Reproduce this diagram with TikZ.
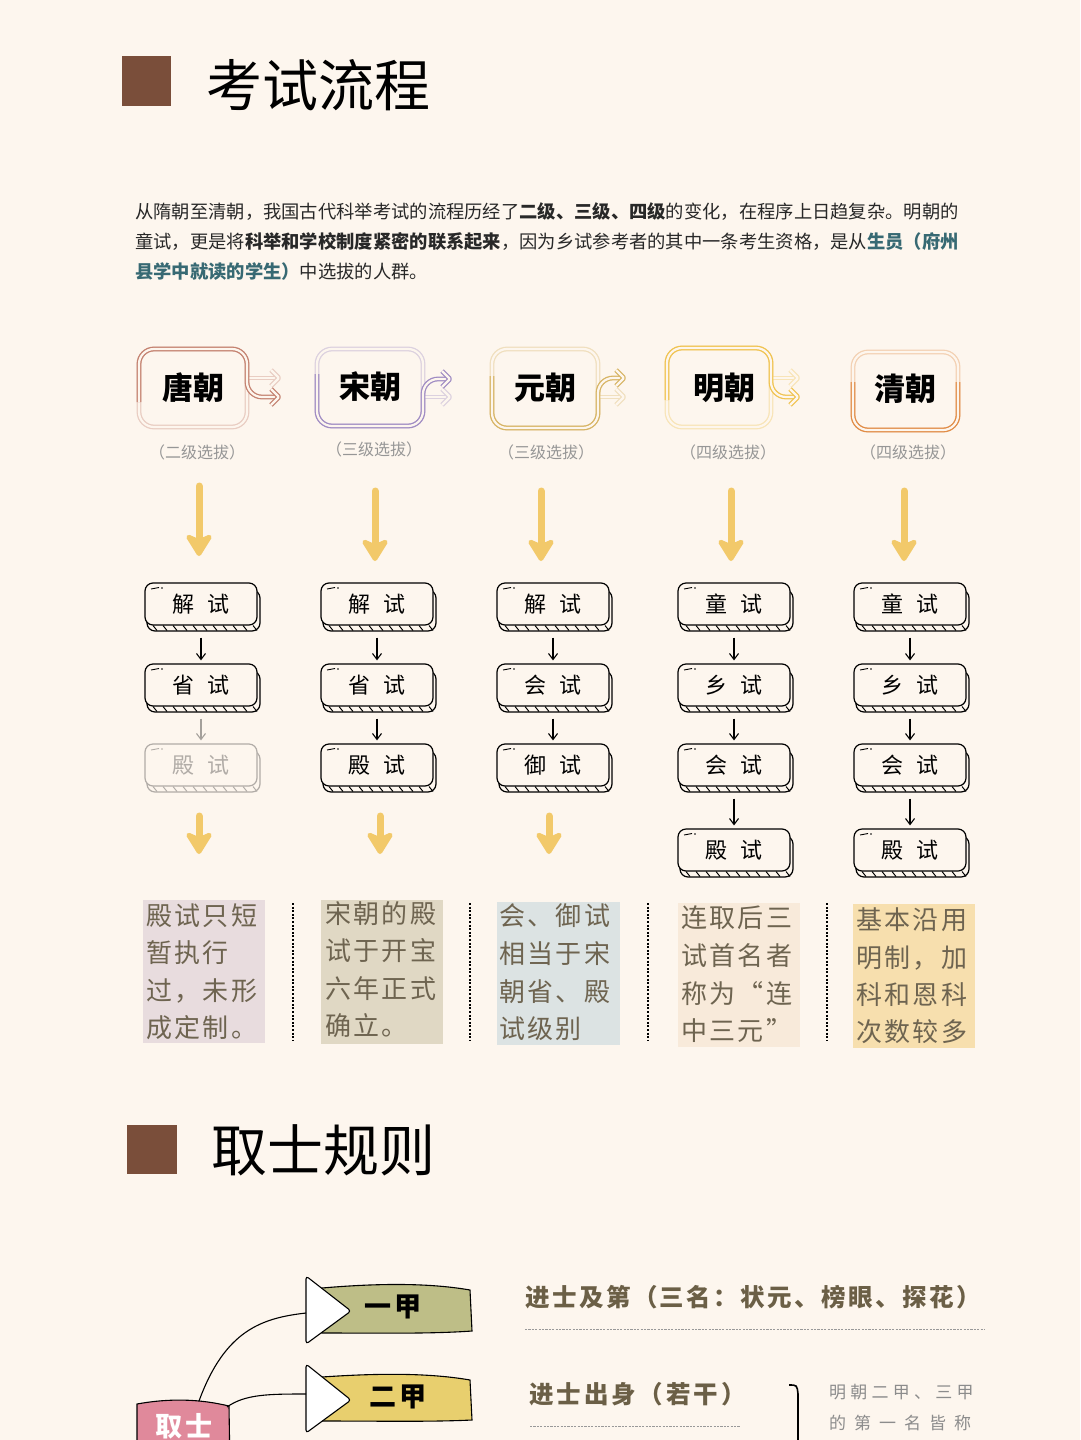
\documentclass[tikz,border=0pt]{standalone}
\usepackage{fontspec}
\setmainfont{Noto Sans CJK SC}
\usetikzlibrary{arrows.meta,calc}
\definecolor{bg}{RGB}{253,246,238}
\definecolor{titlebrown}{RGB}{122,78,58}
\definecolor{bodytext}{RGB}{40,40,40}
\definecolor{teal}{RGB}{55,105,115}
\definecolor{labelgray}{RGB}{150,150,150}
\definecolor{tangc}{RGB}{196,130,112}
\definecolor{songc}{RGB}{160,140,195}
\definecolor{yuanc}{RGB}{215,180,100}
\definecolor{mingc}{RGB}{240,195,80}
\definecolor{qingc}{RGB}{225,140,70}
\definecolor{yarrow}{RGB}{242,201,106}
\definecolor{desctext}{RGB}{110,100,80}
\definecolor{d1}{RGB}{232,220,222}
\definecolor{d2}{RGB}{224,216,196}
\definecolor{d3}{RGB}{220,227,227}
\definecolor{d4}{RGB}{248,234,218}
\definecolor{d5}{RGB}{247,223,174}
\definecolor{olive}{RGB}{190,190,135}
\definecolor{goldbox}{RGB}{232,207,110}
\definecolor{pinkbox}{RGB}{224,137,155}
\definecolor{ruletext}{RGB}{107,95,70}
\definecolor{notegray}{RGB}{140,140,140}
\tikzset{
  dynf/.style={double=bg, double distance=2.2pt, line width=1.3pt, draw=#1!35!bg, rounded corners=15pt},
  dyns/.style={double=bg, double distance=2.2pt, line width=1.3pt, draw=#1, rounded corners=15pt},
  dynnode/.style={minimum width=104pt, minimum height=74pt, inner sep=0pt, font=\fontsize{31}{31}\selectfont\bfseries},
  dynlabel/.style={text=labelgray, inner sep=0pt, font=\fontsize{16}{16}\selectfont},
  bigarrow/.style={draw=yarrow, line width=7pt, line cap=round, -{Stealth[length=26pt,width=32pt,inset=7pt,round]}},
  stepbox/.style={draw=#1, text=#1, fill=bg, line width=1.2pt, rounded corners=8pt, minimum width=112pt, minimum height=42pt, inner sep=0pt, font=\fontsize{22}{22}\selectfont},
  smallarrow/.style={draw=#1, line width=1.1pt, -{Straight Barb[length=6pt,width=9pt]}},
  descline/.style={anchor=west, inner sep=0pt, text=desctext, font=\fontsize{26}{26}\selectfont\addfontfeature{LetterSpace=9}},
  sep/.style={line width=2.4pt, dash pattern=on 2pt off 1.6pt},
  ruledash/.style={draw=gray!80, line width=0.8pt, dash pattern=on 2.2pt off 1.2pt},
}
% step box: name, cx, cy, text, colour
\newcommand\stepb[5]{%
  \draw[draw=#5, line width=1.2pt, rounded corners=8pt] (#2-54,#3-14) rectangle (#2+59,#3+27);
  \foreach \k in {0,...,10} {\draw[draw=#5, line width=1pt] (#2-48+\k*10,#3+21.5) -- (#2-44+\k*10,#3+26.5);}
  \node[stepbox=#5] (#1) at (#2,#3) {#4};
  \draw[draw=#5, line width=0.9pt] (#2-50,#3-15) -- (#2-42,#3-16.5);
  \fill[#5] (#2-39,#3-16) circle (0.8pt);
}
% chevron head of the double arrows: style, tip x, y
\newcommand\chev[3]{%
  \draw[#1, rounded corners=1pt, line join=round] (#2-8,#3-8) -- (#2,#3) -- (#2-8,#3+8);
}
\begin{document}
\begin{tikzpicture}[x=1pt,y=-1pt]
\useasboundingbox (0,0) rectangle (1080,1440);
\fill[bg] (0,0) rectangle (1080,1440);

% ===== Title 1
\fill[titlebrown] (122,56) rectangle (171,106);
\node[anchor=west, inner sep=0pt, font=\fontsize{56}{56}\selectfont] (title1) at (206,85) {考试流程};

% ===== Paragraph
\begin{scope}[every node/.style={anchor=west, inner sep=0pt, text=bodytext, font=\fontsize{18.3}{18.3}\selectfont}]
\node (p1) at (135,212) {从隋朝至清朝，我国古代科举考试的流程历经了{\bfseries 二级、三级、四级}的变化，在程序上日趋复杂。明朝的};
\node (p2) at (135,242) {童试，更是将{\bfseries 科举和学校制度紧密的联系起来}，因为乡试参考者的其中一条考生资格，是从{\bfseries\color{teal}生员（府州}};
\node (p3) at (135,272) {{\bfseries\color{teal}县学中就读的学生）}中选拔的人群。};
\end{scope}

% ===== Dynasty boxes
\node[dynnode] (tang) at (193,388) {唐朝};
\draw[dynf=tangc] (139,349) rectangle (247,427);
\draw[dynf=tangc] (247,378) -- (277,378); \chev{dynf=tangc}{279}{378}
\draw[dyns=tangc] (139,402) -- (139,349) -- (247,349) -- (247,397) -- (277,397); \chev{dyns=tangc}{279}{397}

\node[dynnode] (song) at (370,387) {宋朝};
\draw[dynf=songc] (317,349) rectangle (423,426);
\draw[dynf=songc] (423,397) -- (448,397); \chev{dynf=songc}{450}{397}
\draw[dyns=songc] (317,374) -- (317,426) -- (423,426) -- (423,379) -- (448,379); \chev{dyns=songc}{450}{379}

\node[dynnode] (yuan) at (545,388) {元朝};
\draw[dynf=yuanc] (492,349) rectangle (598,428);
\draw[dynf=yuanc] (598,397) -- (622,397); \chev{dynf=yuanc}{624}{397}
\draw[dyns=yuanc] (492,376) -- (492,428) -- (598,428) -- (598,378) -- (622,378); \chev{dyns=yuanc}{624}{378}

\node[dynnode] (ming) at (724,388) {明朝};
\draw[dynf=mingc] (667,348) rectangle (771,427);
\draw[dynf=mingc] (771,378) -- (796,378); \chev{dynf=mingc}{798}{378}
\draw[dyns=mingc] (667,400) -- (667,348) -- (771,348) -- (771,397) -- (796,397); \chev{dyns=mingc}{798}{397}

\node[dynnode] (qing) at (905,389) {清朝};
\draw[dynf=qingc] (853,352) rectangle (958,430);
\draw[dyns=qingc] (853,382) -- (853,430) -- (958,430) -- (958,382);

\node[dynlabel] (lt) at (197,452) {（二级选拔）};
\node[dynlabel] (ls) at (374,449) {（三级选拔）};
\node[dynlabel] (ly) at (546,452) {（三级选拔）};
\node[dynlabel] (lm) at (728,452) {（四级选拔）};
\node[dynlabel] (lq) at (908,452) {（四级选拔）};

% ===== Big yellow arrows
\coordinate (ya1) at (199,486); \coordinate (yb1) at (199,556);
\coordinate (ya2) at (375,491); \coordinate (yb2) at (375,561);
\coordinate (ya3) at (541,491); \coordinate (yb3) at (541,561);
\coordinate (ya4) at (731,491); \coordinate (yb4) at (731,561);
\coordinate (ya5) at (904,491); \coordinate (yb5) at (904,561);
\foreach \i in {1,...,5} {\draw[bigarrow] (ya\i) -- (yb\i);}

% ===== Step boxes
\stepb{a1}{201}{604}{解\hspace{13pt}试}{black}
\stepb{a2}{201}{685}{省\hspace{13pt}试}{black}
\stepb{a3}{201}{765}{殿\hspace{13pt}试}{black!30!bg}
\stepb{b1}{377}{604}{解\hspace{13pt}试}{black}
\stepb{b2}{377}{685}{省\hspace{13pt}试}{black}
\stepb{b3}{377}{765}{殿\hspace{13pt}试}{black}
\stepb{c1}{553}{604}{解\hspace{13pt}试}{black}
\stepb{c2}{553}{685}{会\hspace{13pt}试}{black}
\stepb{c3}{553}{765}{御\hspace{13pt}试}{black}
\stepb{m1}{734}{604}{童\hspace{13pt}试}{black}
\stepb{m2}{734}{685}{乡\hspace{13pt}试}{black}
\stepb{m3}{734}{765}{会\hspace{13pt}试}{black}
\stepb{m4}{734}{850}{殿\hspace{13pt}试}{black}
\stepb{q1}{910}{604}{童\hspace{13pt}试}{black}
\stepb{q2}{910}{685}{乡\hspace{13pt}试}{black}
\stepb{q3}{910}{765}{会\hspace{13pt}试}{black}
\stepb{q4}{910}{850}{殿\hspace{13pt}试}{black}

\draw[smallarrow=black] ($(a1.south)+(0,12)$) -- ($(a2.north)+(0,-3)$);
\draw[smallarrow=black!35!bg] ($(a2.south)+(0,12)$) -- ($(a3.north)+(0,-3)$);
\draw[smallarrow=black] ($(b1.south)+(0,12)$) -- ($(b2.north)+(0,-3)$);
\draw[smallarrow=black] ($(b2.south)+(0,12)$) -- ($(b3.north)+(0,-3)$);
\draw[smallarrow=black] ($(c1.south)+(0,12)$) -- ($(c2.north)+(0,-3)$);
\draw[smallarrow=black] ($(c2.south)+(0,12)$) -- ($(c3.north)+(0,-3)$);
\draw[smallarrow=black] ($(m1.south)+(0,12)$) -- ($(m2.north)+(0,-3)$);
\draw[smallarrow=black] ($(m2.south)+(0,12)$) -- ($(m3.north)+(0,-3)$);
\draw[smallarrow=black] ($(m3.south)+(0,12)$) -- ($(m4.north)+(0,-3)$);
\draw[smallarrow=black] ($(q1.south)+(0,12)$) -- ($(q2.north)+(0,-3)$);
\draw[smallarrow=black] ($(q2.south)+(0,12)$) -- ($(q3.north)+(0,-3)$);
\draw[smallarrow=black] ($(q3.south)+(0,12)$) -- ($(q4.north)+(0,-3)$);

% lower yellow arrows
\coordinate (yc1) at (199,816); \coordinate (yd1) at (199,854);
\coordinate (yc2) at (380,816); \coordinate (yd2) at (380,854);
\coordinate (yc3) at (549,816); \coordinate (yd3) at (549,854);
\foreach \i in {1,2,3} {\draw[bigarrow] (yc\i) -- (yd\i);}

% ===== Description boxes
\fill[d1] (143,900) rectangle (265,1043);
\fill[d2] (321,900) rectangle (443,1044);
\fill[d3] (497,902) rectangle (620,1045);
\fill[d4] (678,903) rectangle (800,1047);
\fill[d5] (853,904) rectangle (975,1048);

\node[descline] (t11) at (146,916) {殿试只短};
\node[descline] (t12) at (146,953) {暂执行};
\node[descline] (t13) at (146,991) {过，未形};
\node[descline] (t14) at (146,1028) {成定制。};
\node[descline] (t21) at (325,914) {宋朝的殿};
\node[descline] (t22) at (325,951) {试于开宝};
\node[descline] (t23) at (325,989) {六年正式};
\node[descline] (t24) at (325,1026) {确立。};
\node[descline] (t31) at (499,916) {会、御试};
\node[descline] (t32) at (499,954) {相当于宋};
\node[descline] (t33) at (499,992) {朝省、殿};
\node[descline] (t34) at (499,1029) {试级别};
\node[descline] (t41) at (681,918) {连取后三};
\node[descline] (t42) at (681,956) {试首名者};
\node[descline] (t43) at (681,994) {称为“连};
\node[descline] (t44) at (681,1031) {中三元”};
\node[descline] (t51) at (856,920) {基本沿用};
\node[descline] (t52) at (856,958) {明制，加};
\node[descline] (t53) at (856,995) {科和恩科};
\node[descline] (t54) at (856,1032) {次数较多};

\foreach \x in {293,470,648,827} {\draw[sep] (\x,903) -- (\x,1041);}

% ===== Title 2
\fill[titlebrown] (127,1125) rectangle (177,1174);
\node[anchor=west, inner sep=0pt, font=\fontsize{56}{56}\selectfont] (title2) at (211,1150) {取士规则};

% ===== Bottom diagram
\filldraw[fill=pinkbox, draw=black, line width=1.1pt] (137,1470) -- (137,1404) .. controls (170,1398) and (200,1399) .. (229,1406) -- (230,1470) -- cycle;
\node[text=white, inner sep=0pt, font=\fontsize{27}{27}\selectfont\bfseries\addfontfeature{LetterSpace=14}] (qushi) at (184,1426) {取士};

\filldraw[fill=olive, draw=black, line width=1.1pt] (322,1288) .. controls (380,1283) and (430,1283) .. (470,1290) -- (472,1331) .. controls (430,1334) and (380,1333) .. (322,1333) -- cycle;
\filldraw[fill=goldbox, draw=black, line width=1.1pt] (322,1377) .. controls (380,1373) and (430,1373) .. (470,1380) -- (472,1420) .. controls (430,1422) and (380,1421) .. (322,1421) -- cycle;
\filldraw[fill=white, draw=black, line width=1.1pt, rounded corners=3pt] (306,1276) -- (351,1311) -- (306,1344) -- cycle;
\filldraw[fill=white, draw=black, line width=1.1pt, rounded corners=3pt] (306,1364) -- (351,1400) -- (306,1433) -- cycle;
\coordinate (tri1) at (306,1313);
\coordinate (tri2) at (306,1394);
\node[inner sep=0pt, font=\fontsize{27}{27}\selectfont\bfseries\addfontfeature{LetterSpace=10}] (yijia) at (393,1307) {一甲};
\node[inner sep=0pt, font=\fontsize{27}{27}\selectfont\bfseries\addfontfeature{LetterSpace=10}] (erjia) at (398,1397) {二甲};
\coordinate (qs1) at (199,1401);
\coordinate (qs2) at (227,1407);
\draw[line width=1.1pt] (qs1) .. controls (225,1330) and (262,1318) .. (tri1);
\draw[line width=1.1pt] (qs2) .. controls (245,1394) and (270,1394) .. (tri2);

\node[anchor=west, inner sep=0pt, text=ruletext, font=\fontsize{24.5}{24.5}\selectfont\bfseries\addfontfeature{LetterSpace=10}] (r1) at (525,1297) {进士及第（三名：状元、榜眼、探花）};
\node[anchor=west, inner sep=0pt, text=ruletext, font=\fontsize{24.5}{24.5}\selectfont\bfseries\addfontfeature{LetterSpace=12}] (r2) at (529,1394) {进士出身（若干）};
\draw[ruledash] (525,1329) -- (985,1329);
\draw[ruledash] (530,1426) -- (740,1426);
\draw[line width=1.6pt] (789,1385) .. controls (797,1385) .. (798,1394) -- (798,1445);
\node[anchor=west, inner sep=0pt, text=notegray, font=\fontsize{17}{17}\selectfont\addfontfeature{LetterSpace=25}] (n1) at (829,1392) {明朝二甲、三甲};
\node[anchor=west, inner sep=0pt, text=notegray, font=\fontsize{17}{17}\selectfont\addfontfeature{LetterSpace=47}] (n2) at (829,1423) {的第一名皆称};
\end{tikzpicture}
\end{document}
